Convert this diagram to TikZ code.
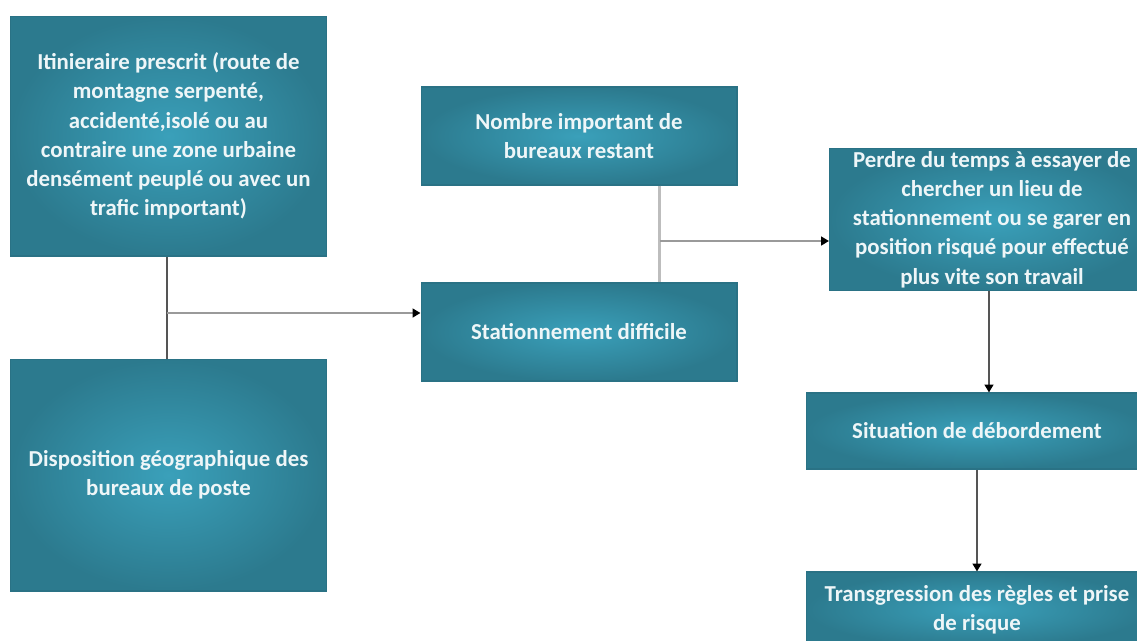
\documentclass[tikz,border=0pt]{standalone}
\usepackage{fontspec}
\setmainfont{Carlito}
\usetikzlibrary{arrows.meta,calc}
\definecolor{boxin}{HTML}{3AA0BA}
\definecolor{boxout}{HTML}{2C7A8E}
\definecolor{boxline}{HTML}{2A7285}
\definecolor{darkln}{HTML}{555555}
\definecolor{midln}{HTML}{9A9A9A}
\definecolor{lightln}{HTML}{BDBDBD}
\definecolor{txt}{HTML}{EEF6F8}
\tikzset{
  box/.style={rectangle, inner sep=0pt, inner color=boxin, outer color=boxout,
    draw=boxline, line width=0.6pt, text=txt, align=center,
    font=\bfseries\fontsize{13}{16.6}\selectfont},
  tip/.style={-{Triangle[width=5pt,length=4.5pt,black]}},
  dk/.style={draw=darkln, line width=1.2pt},
  md/.style={draw=midln, line width=1.1pt},
  lt/.style={draw=lightln, line width=1.8pt}
}
\begin{document}
\begin{tikzpicture}[x=0.02cm,y=-0.02cm]
\useasboundingbox (0,0) rectangle (1137,640);
\clip (0,0) rectangle (1137,640);
\node[box, minimum width=6.34cm, minimum height=4.8cm] (A) at (168.5,136)
  {Itinieraire prescrit (route de\\montagne serpenté,\\accidenté,isolé ou au\\contraire une zone urbaine\\densément peuplé ou avec un\\trafic important)};
\node[box, minimum width=6.34cm, minimum height=4.64cm] (B) at (168.5,475)
  {Disposition géographique des\\bureaux de poste};
\node[box, minimum width=6.32cm, minimum height=1.96cm] (C) at (579,136)
  {Nombre important de\\bureaux restant};
\node[box, minimum width=6.32cm, minimum height=1.96cm] (D) at (579,332)
  {Stationnement difficile};
\node[box, minimum width=6.5cm, minimum height=2.84cm] (E) at (992,219.5)
  {Perdre du temps à essayer de\\chercher un lieu de\\stationnement ou se garer en\\position risqué pour effectué\\plus vite son travail};
\node[box, minimum width=6.84cm, minimum height=1.52cm] (F) at (977,431)
  {Situation de débordement};
\node[box, minimum width=6.84cm, minimum height=1.5cm] (G) at (977,609.5)
  {Transgression des règles et prise\\de risque};
% connectors
\draw[dk] (A.south -| 167,0) -- (B.north -| 167,0);
\coordinate (j1) at (167,313);
\draw[md, tip] (j1) -- (j1 -| D.west);
\coordinate (cx) at ($(C.south west)!0.755!(C.south east)$);
\draw[lt] (cx) -- (cx |- D.north);
\coordinate (j2) at (cx |- 0,241);
\draw[md, tip] (j2) -- (j2 -| E.west);
\draw[dk, tip] (E.south -| 989,0) -- (F.north -| 989,0);
\draw[dk, tip] (F.south) -- (G.north);
\end{tikzpicture}
\end{document}
